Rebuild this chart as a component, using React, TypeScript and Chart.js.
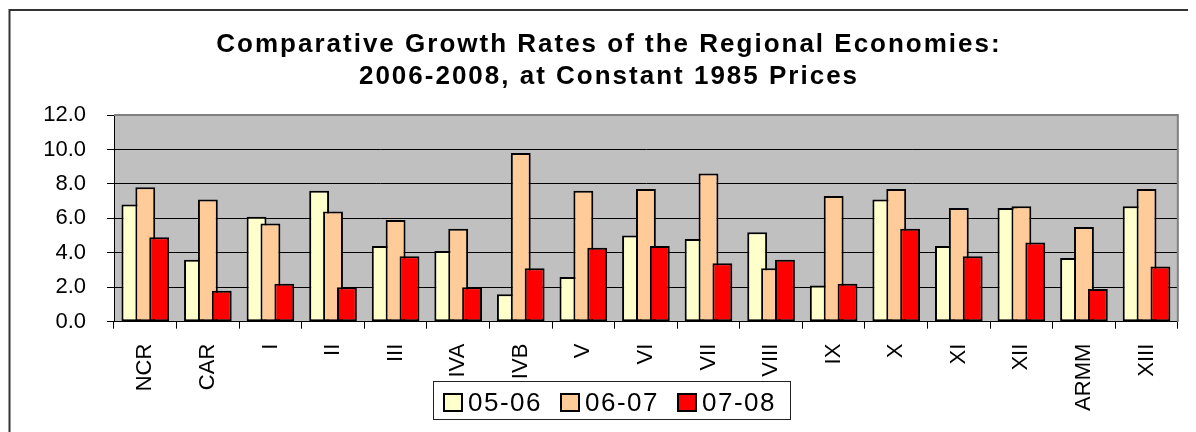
import React, { useEffect, useRef } from "react";
import { Chart, registerables } from "chart.js";

Chart.register(...registerables);

const titleLines = [
  "Comparative Growth Rates of the Regional Economies:",
  "2006-2008, at Constant 1985 Prices",
];
const categories = ["NCR", "CAR", "I", "II", "III", "IVA", "IVB", "V", "VI", "VII", "VIII", "IX", "X", "XI", "XII", "ARMM", "XIII"];
const seriesLabels = ["05-06", "06-07", "07-08"];
const s0506 = [6.8, 3.6, 6.1, 7.6, 4.4, 4.1, 1.6, 2.6, 5.0, 4.8, 5.2, 2.1, 7.1, 4.4, 6.6, 3.7, 6.7];
const s0607 = [7.8, 7.1, 5.7, 6.4, 5.9, 5.4, 9.8, 7.6, 7.7, 8.6, 3.1, 7.3, 7.7, 6.6, 6.7, 5.5, 7.7];
const s0708 = [4.9, 1.8, 2.2, 2.0, 3.8, 2.0, 3.1, 4.3, 4.4, 3.4, 3.6, 2.2, 5.4, 3.8, 4.6, 1.9, 3.2];
const seriesColors = ["#FFFFCC", "#FFCC99", "#FF0000"];
const yMin = 0;
const yMax = 12;
const yStep = 2;

const FONT = '"Liberation Sans", Arial, sans-serif';

const framePlugin = {
  id: "frame",
  beforeDraw(chart: any) {
    const { ctx, chartArea } = chart;
    ctx.save();
    ctx.fillStyle = "#C0C0C0";
    ctx.fillRect(chartArea.left, chartArea.top, chartArea.right - chartArea.left, chartArea.bottom - chartArea.top);
    ctx.restore();
  },
  beforeDatasetsDraw(chart: any) {
    const { ctx, chartArea } = chart;
    ctx.save();
    ctx.strokeStyle = "#808080";
    ctx.lineWidth = 2;
    ctx.beginPath();
    ctx.moveTo(chartArea.left, chartArea.top);
    ctx.lineTo(chartArea.right, chartArea.top);
    ctx.lineTo(chartArea.right, chartArea.bottom);
    ctx.stroke();
    ctx.restore();
  },
  beforeDatasetDraw(chart: any) {
    if (!chart.$manualDraw) return false;
  },
  afterDatasetsDraw(chart: any) {
    const { ctx, chartArea } = chart;
    chart.$manualDraw = true;
    for (let i = 0; i < chart.data.datasets.length; i++) {
      const meta = chart.getDatasetMeta(i);
      ctx.save();
      ctx.beginPath();
      ctx.rect(chartArea.left - 2, chartArea.top - 2, chartArea.right - chartArea.left + 4, chartArea.bottom - chartArea.top + 4);
      ctx.clip();
      meta.controller.draw();
      ctx.restore();
    }
    chart.$manualDraw = false;
  },
  afterDraw(chart: any) {
    const { ctx, width, height } = chart;
    ctx.save();
    // outer frame
    ctx.strokeStyle = "#333333";
    ctx.lineWidth = 2;
    ctx.strokeRect(1.5, 2, width + 20, height + 20);
    // title
    ctx.fillStyle = "#000";
    ctx.font = `bold 26px ${FONT}`;
    (ctx as any).letterSpacing = "2px";
    ctx.textAlign = "center";
    ctx.textBaseline = "alphabetic";
    ctx.fillText(titleLines[0], 601, 43.5);
    ctx.fillText(titleLines[1], 601, 76);
    ctx.restore();

    // legend
    ctx.save();
    const lx = 425, ly = 373, lw = 357, lh = 38;
    ctx.fillStyle = "#fff";
    ctx.fillRect(lx, ly, lw, lh);
    ctx.strokeStyle = "#222";
    ctx.lineWidth = 1;
    ctx.strokeRect(lx + 0.5, ly + 0.5, lw, lh);
    ctx.font = `26px ${FONT}`;
    (ctx as any).letterSpacing = "1.5px";
    ctx.textAlign = "left";
    ctx.textBaseline = "alphabetic";
    chart.data.datasets.forEach((ds: any, i: number) => {
      const mx = 436 + i * 117;
      ctx.fillStyle = ds.backgroundColor;
      ctx.fillRect(mx, 386, 18, 17);
      ctx.strokeStyle = "#000";
      ctx.lineWidth = 2;
      ctx.strokeRect(mx, 386, 18, 17);
      ctx.fillStyle = "#000";
      ctx.fillText(ds.label, mx + 24, 403);
    });
    ctx.restore();
  },
};

export default function App() {
  const ref = useRef<HTMLCanvasElement | null>(null);
  useEffect(() => {
    document.documentElement.style.overflow = "hidden";
    const values = [s0506, s0607, s0708];
    const chart = new Chart(ref.current as HTMLCanvasElement, {
      type: "bar",
      data: {
        labels: categories,
        datasets: seriesLabels.map((label, i) => ({
          label,
          data: values[i],
          backgroundColor: seriesColors[i],
          borderColor: "#000",
          borderWidth: 2,
          borderSkipped: false,
          categoryPercentage: 0.666,
          barPercentage: 1.43,
        })),
      },
      options: {
        animation: false,
        responsive: false,
        devicePixelRatio: 1,
        layout: { padding: { top: 107, right: 2, left: 0, bottom: 0 } },
        plugins: {
          legend: { display: false },
          title: { display: false },
          tooltip: { enabled: false },
        },
        scales: {
          x: {
            type: "category",
            grid: {
              offset: true,
              drawOnChartArea: false,
              drawTicks: true,
              tickLength: 7,
              color: "#000",
              tickColor: "#000",
            },
            border: { display: true, color: "#000", width: 1 },
            ticks: {
              autoSkip: false,
              maxRotation: 90,
              minRotation: 90,
              padding: 15,
              color: "#000",
              font: { family: FONT, size: 22 },
            },
            afterFit(scale: any) {
              scale.height = 110.3;
            },
          },
          y: {
            min: yMin,
            max: yMax,
            ticks: {
              stepSize: yStep,
              padding: 21,
              color: "#000",
              font: { family: FONT, size: 22 },
              callback: (v: any) => Number(v).toFixed(1),
            },
            grid: {
              color: (c: any) => (c.tick && c.tick.value === yMax ? "#808080" : "#000"),
              tickColor: "#000",
              tickLength: 7,
              lineWidth: 1,
            },
            border: { display: true, color: "#000", width: 1 },
            afterFit(scale: any) {
              scale.width = 106;
            },
          },
        },
      },
      plugins: [framePlugin],
    } as any);
    return () => chart.destroy();
  }, []);
  return (
    <div style={{ width: 1180, height: 424 }}>
      <canvas ref={ref} width={1180} height={424} style={{ display: "block" }} />
    </div>
  );
}
